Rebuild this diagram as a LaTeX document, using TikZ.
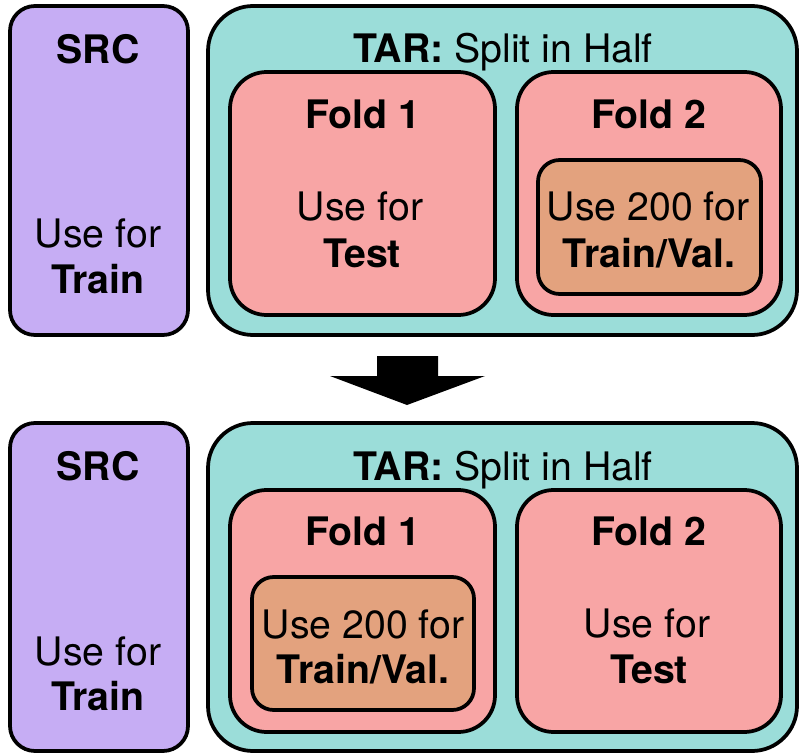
\documentclass[tikz,border=0pt]{standalone}
\usepackage{fontspec}
\setmainfont{TeX Gyre Heros}
\usepackage{tikz}

\definecolor{srccol}{HTML}{C6ADF4}
\definecolor{tarcol}{HTML}{9BDDD9}
\definecolor{foldcol}{HTML}{F8A5A5}
\definecolor{usecol}{HTML}{E3A27E}

\tikzset{
  box/.style={draw=black, line width=3.2pt},
  lbl/.style={anchor=base, inner sep=0pt, font=\fontsize{33.5}{40}\selectfont},
  blbl/.style={lbl, font=\fontsize{33.5}{40}\selectfont\bfseries}
}

\begin{document}
\begin{tikzpicture}[x=0.03cm, y=-0.03cm]
    \useasboundingbox (0,0) rectangle (799,756);
    % top
    \filldraw[box, fill=srccol, rounded corners=0.75cm]
      (10,6) rectangle (188,335);
    \filldraw[box, fill=tarcol, rounded corners=1.35cm]
      (208,6) rectangle (797,335);
    \filldraw[box, fill=foldcol, rounded corners=1.1cm]
      (230,72) rectangle (495,315);
    \filldraw[box, fill=foldcol, rounded corners=1.1cm]
      (517,72) rectangle (781,315);
    \filldraw[box, fill=usecol, rounded corners=0.65cm]
      (538,160) rectangle (761,294);
    \node[blbl] (srcA) at (98,63) {SRC};
    \node[lbl] (srcuseA) at (98,247) {Use for};
    \node[blbl] (srctrainA) at (98,293) {Train};
    \node[lbl] (tarA) at (503,62) {\textbf{TAR:} Split in Half};
    \node[blbl] (foldoneA) at (363,128) {Fold 1};
    \node[lbl] (testuseA) at (360,220) {Use for};
    \node[blbl] (testA) at (362,267) {Test};
    \node[blbl] (foldtwoA) at (649,128) {Fold 2};
    \node[lbl] (trainuseA) at (648,220) {Use 200 for};
    \node[blbl] (trainvalA) at (649,267) {Train/Val.};
    % arrow
    \fill[black] (377,356) -- (438,356) -- (438,376) -- (485,376)
      -- (407,405) -- (330,376) -- (377,376) -- cycle;
    % bottom
    \filldraw[box, fill=srccol, rounded corners=0.75cm]
      (10,423) rectangle (188,751);
    \filldraw[box, fill=tarcol, rounded corners=1.35cm]
      (208,423) rectangle (797,751);
    \filldraw[box, fill=foldcol, rounded corners=1.1cm]
      (230,490) rectangle (495,732);
    \filldraw[box, fill=foldcol, rounded corners=1.1cm]
      (517,490) rectangle (781,732);
    \filldraw[box, fill=usecol, rounded corners=0.65cm]
      (252,577) rectangle (474,710);
    \node[blbl] (srcB) at (98,480) {SRC};
    \node[lbl] (srcuseB) at (98,665) {Use for};
    \node[blbl] (srctrainB) at (98,710) {Train};
    \node[lbl] (tarB) at (503,480) {\textbf{TAR:} Split in Half};
    \node[blbl] (foldoneB) at (363,545) {Fold 1};
    \node[lbl] (trainuseB) at (363,638) {Use 200 for};
    \node[blbl] (trainvalB) at (363,683) {Train/Val.};
    \node[blbl] (foldtwoB) at (649,545) {Fold 2};
    \node[lbl] (testuseB) at (647,637) {Use for};
    \node[blbl] (testB) at (649,683) {Test};
  \end{tikzpicture}
\end{document}
